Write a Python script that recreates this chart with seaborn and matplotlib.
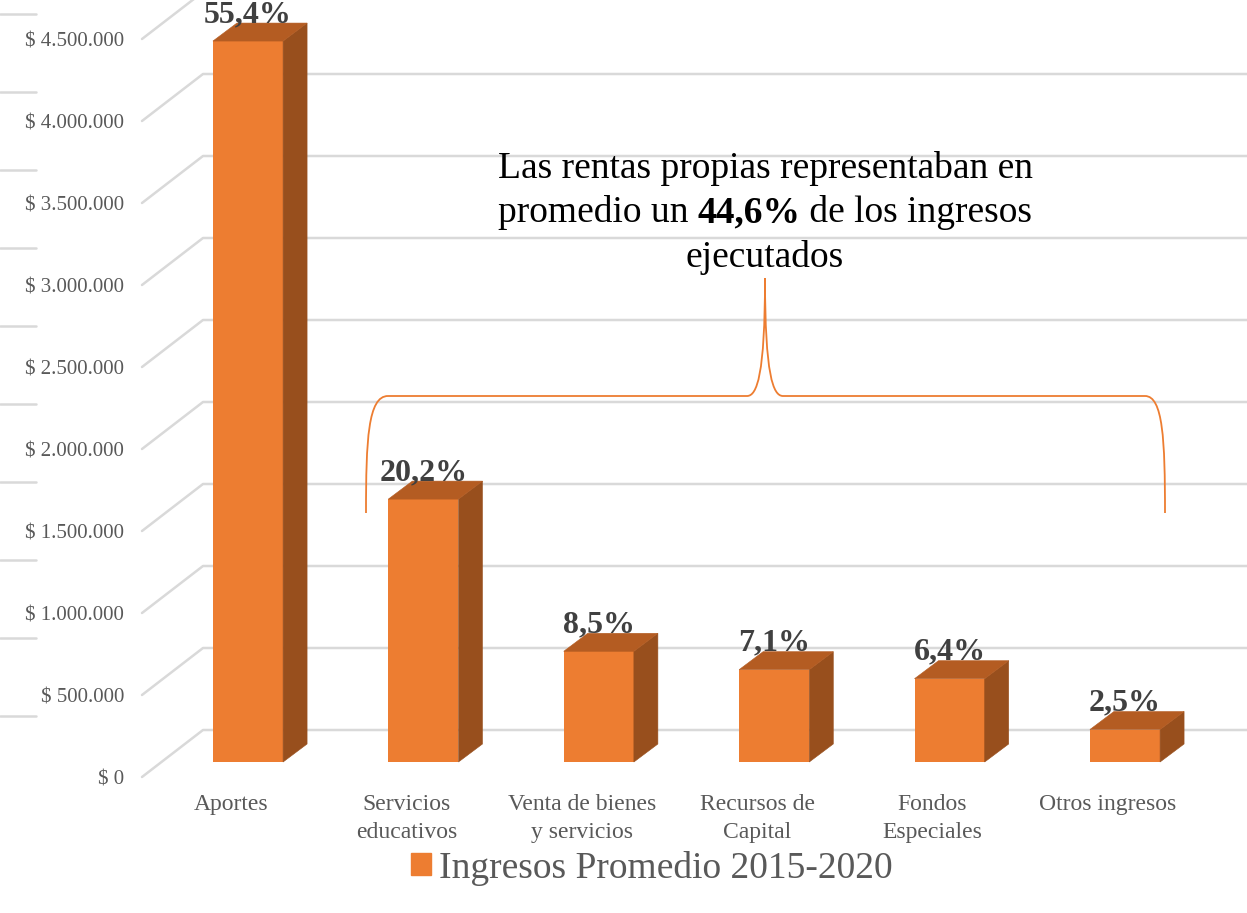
import numpy as np
import pandas as pd
import matplotlib
matplotlib.use("Agg")
import matplotlib.pyplot as plt
import matplotlib.transforms as mtransforms
from matplotlib.patches import Polygon, PathPatch, Patch
from matplotlib.path import Path
from matplotlib.lines import Line2D
import seaborn as sns

# ---------------- data ----------------
categories = ["Aportes", "Servicios\neducativos", "Venta de bienes\ny servicios",
              "Recursos de\nCapital", "Fondos\nEspeciales", "Otros ingresos"]
values = [4396000, 1603000, 675000, 563000, 508000, 198000]
pct_labels = ["55,4%", "20,2%", "8,5%", "7,1%", "6,4%", "2,5%"]
y_ticks = [0, 500000, 1000000, 1500000, 2000000, 2500000, 3000000, 3500000, 4000000, 4500000]
series_name = "Ingresos Promedio 2015-2020"
note_line1 = "Las rentas propias representaban en"
note_line2 = ["promedio un ", "44,6%", " de los ingresos"]
note_line3 = "ejecutados"

# ---------------- style ----------------
sns.set_theme(style="white")
plt.rcParams['font.family'] = ['Liberation Serif', 'DejaVu Serif']

W, H, DPI = 1247, 913, 100
fig = plt.figure(figsize=(W / DPI, H / DPI), dpi=DPI)
fig.patch.set_facecolor("white")

FRONT = "#ED7D31"
TOP = "#B45C22"
SIDE = "#984F1D"
GRID = "#D9D9D9"
TXT = "#595959"

# axes: left edge = front-left floor corner, bottom = front label plane of $0
ax = fig.add_axes([142 / W, (H - 777) / H, (W - 142) / W, 777 / H])

df = pd.DataFrame({"cat": categories, "val": values})
sns.barplot(data=df, x="cat", y="val", color=FRONT, width=0.4, saturation=1,
            ax=ax, label=series_name, zorder=3, linewidth=0)
leg = ax.get_legend()
if leg is not None:
    leg.remove()

px_per_cat = 175.4
px_per_val = 164e-6
x0_px, base_px = 248, 762
ax.set_xlim((142 - x0_px) / px_per_cat, (W - x0_px) / px_per_cat)
ax.set_ylim((base_px - 777) / px_per_val, base_px / px_per_val)
ax.set_facecolor("none")
for s in ax.spines.values():
    s.set_visible(False)
ax.set_xlabel("")
ax.set_ylabel("")
ax.grid(False)

ident = mtransforms.IdentityTransform()
def disp(x, y):
    return np.array(ax.transData.transform((x, y)))

xl0 = ax.get_xlim()[0]

# back-wall gridlines with diagonal floor/side lines (behind the bars)
for v in y_ticks:
    front = disp(xl0, v) + np.array([0, -15])
    back = disp(xl0, v) + np.array([61, 32])
    ln = Line2D([front[0], back[0], W + 20], [front[1], back[1], back[1]],
                color=GRID, lw=1.8, transform=ident, zorder=1)
    ax.add_line(ln)
    ln.set_clip_on(False)
    ys = H - (716 - v * 78 / 500000)
    sl = Line2D([0, 36], [ys, ys], color=GRID, lw=1.8, transform=ident, zorder=1)
    ax.add_line(sl)
    sl.set_clip_on(False)

# 3D faces of bars
DX, DY = 24, 18
bars = [p for p in ax.patches]
for p, lab in zip(bars, pct_labels):
    bx0, bw, bh = p.get_x(), p.get_width(), p.get_height()
    bl, br = disp(bx0, 0), disp(bx0 + bw, 0)
    tl, tr = disp(bx0, bh), disp(bx0 + bw, bh)
    d = np.array([DX, DY])
    side = Polygon([br, br + d, tr + d, tr], closed=True, fc=SIDE, ec=SIDE, lw=0.4,
                   transform=ident, zorder=3)
    top = Polygon([tl, tr, tr + d, tl + d], closed=True, fc=TOP, ec=TOP, lw=0.4,
                  transform=ident, zorder=3)
    ax.add_patch(side)
    ax.add_patch(top)
    side.set_clip_on(False)
    top.set_clip_on(False)
    ax.annotate(lab, xy=(bx0 + bw / 2, bh), xytext=(0, 19 * 0.72),
                textcoords="offset points", ha="center", va="baseline",
                fontsize=23, fontweight="bold", color="#404040", zorder=5,
                annotation_clip=False)

# ticks
ax.set_yticks(y_ticks)
ax.set_yticklabels(["$ 0" if v == 0 else "$ " + f"{v:,}".replace(",", ".") for v in y_ticks])
ax.set_xticks(range(len(categories)))
ax.set_xticklabels(categories)
ax.tick_params(axis="y", length=0, pad=13, labelsize=15, labelcolor=TXT)
ax.tick_params(axis="x", length=0, pad=12, labelsize=17, labelcolor=TXT)
for t in ax.get_yticklabels():
    t.set_transform(t.get_transform() + mtransforms.Affine2D().translate(0, -15))
for t in ax.get_xticklabels():
    t.set_transform(t.get_transform() + mtransforms.Affine2D().translate(-17, 0))
    t.set_linespacing(1.45)

# brace annotation (pixel coords from top-left)
to_disp = mtransforms.Affine2D().scale(1, -1).translate(0, H)
verts = [(366, 513), (366, 440), (368, 396), (388, 396),
         (747, 396),
         (757, 396), (765, 375), (765, 278),
         (765, 375), (773, 396), (783, 396),
         (1145, 396),
         (1163, 396), (1165, 440), (1165, 513)]
codes = [Path.MOVETO, Path.CURVE4, Path.CURVE4, Path.CURVE4,
         Path.LINETO,
         Path.CURVE4, Path.CURVE4, Path.CURVE4,
         Path.CURVE4, Path.CURVE4, Path.CURVE4,
         Path.LINETO,
         Path.CURVE4, Path.CURVE4, Path.CURVE4]
fig.add_artist(PathPatch(Path(verts, codes), fc="none", ec=FRONT, lw=1.3,
                         transform=to_disp, zorder=4))

# note text
NOTE_FS = 27
cx = 765
fig.text(cx / W, 1 - 168 / H, note_line1, ha="center", va="center",
         fontsize=NOTE_FS, color="black")
fig.text(cx / W, 1 - 257 / H, note_line3, ha="center", va="center",
         fontsize=NOTE_FS, color="black")
parts = []
for i, s in enumerate(note_line2):
    parts.append(fig.text(0, 1 - 213 / H, s, ha="left", va="center",
                          fontsize=NOTE_FS, color="black",
                          fontweight="bold" if i == 1 else "normal"))
fig.canvas.draw()
r = fig.canvas.get_renderer()
widths = [t.get_window_extent(r).width for t in parts]
x = cx - sum(widths) / 2
for t, w in zip(parts, widths):
    t.set_x(x / W)
    x += w

# legend
fig.legend(handles=[Patch(color=FRONT, label=series_name)], loc="center",
           bbox_to_anchor=(651.5 / W, 1 - 868 / H), fontsize=27, frameon=False,
           handlelength=0.54, handleheight=0.54, handletextpad=0.2,
           borderpad=0, labelcolor=TXT)

fig.savefig("out.png", dpi=DPI, facecolor="white")
